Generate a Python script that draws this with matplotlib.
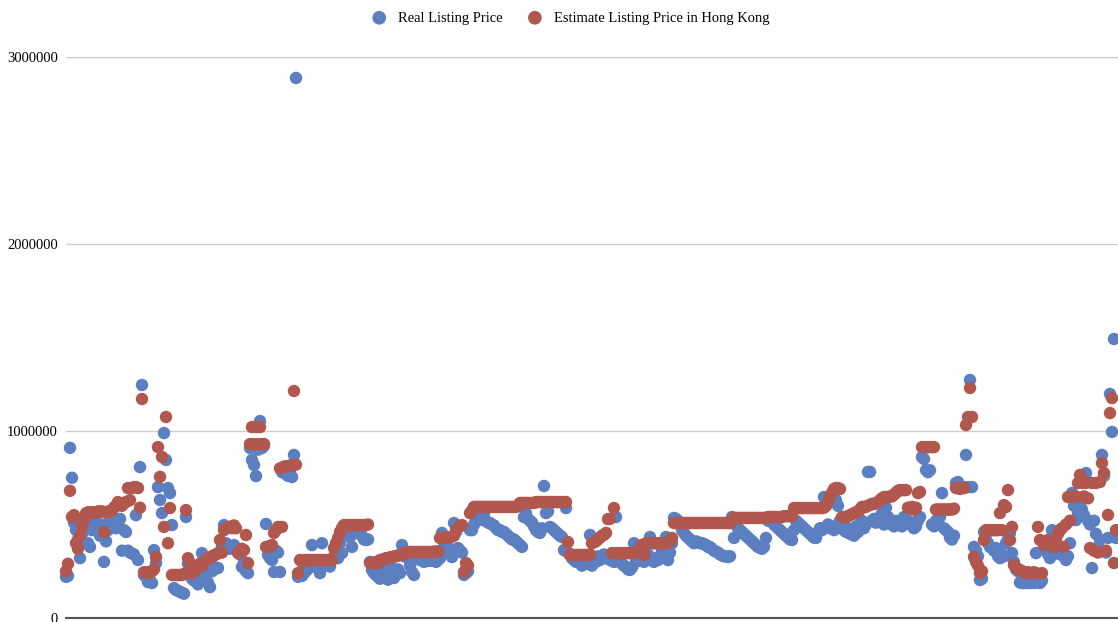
import matplotlib.pyplot as plt
import numpy as np

# values in thousands, one point every listing (index order)
real_price = [
    220, 225, 910, 750, 510, 470, 420, 320, 450, 480,
    510, 400, 380, 470, 500, 520, 470, 440, 500, 300,
    410, 470, 520, 500, 530, 480, 510, 530, 360, 470,
    460, 360, 350, 345, 340, 550, 310, 807, 1246, 230,
    220, 192, 200, 187, 363, 294, 700, 631, 561, 989,
    845, 695, 668, 497, 160, 150, 145, 140, 134, 130,
    540, 290, 230, 210, 200, 240, 180, 210, 347, 230,
    200, 190, 165, 250, 260, 270, 267, 350, 380, 497,
    400, 380, 370, 480, 390, 370, 360, 340, 273, 300,
    250, 240, 909, 845, 818, 759, 900, 1053, 909, 920,
    503, 337, 320, 310, 246, 360, 350, 246, 780, 790,
    770, 760, 790, 754, 872, 2888, 220, 230, 225, 240,
    250, 280, 270, 390, 285, 280, 300, 240, 400, 290,
    300, 285, 275, 310, 330, 370, 320, 400, 347, 497,
    480, 470, 433, 380, 460, 490, 470, 450, 440, 420,
    417, 420, 300, 257, 240, 230, 220, 210, 260, 230,
    215, 205, 280, 230, 214, 250, 260, 240, 390, 330,
    340, 320, 280, 246, 230, 320, 330, 310, 320, 300,
    310, 320, 305, 310, 330, 300, 310, 320, 455, 380,
    400, 350, 370, 326, 508, 460, 374, 360, 350, 230,
    240, 250, 470, 470, 500, 520, 560, 540, 524, 560,
    520, 510, 508, 500, 495, 480, 470, 470, 460, 460,
    450, 440, 430, 420, 420, 410, 400, 390, 380, 540,
    560, 530, 520, 510, 490, 470, 460, 455, 480, 706,
    561, 570, 487, 480, 470, 460, 450, 440, 433, 363,
    588, 350, 340, 320, 310, 300, 320, 300, 280, 290,
    300, 290, 444, 280, 320, 300, 330, 310, 320, 340,
    320, 330, 310, 320, 300, 540, 310, 300, 290, 280,
    273, 260, 257, 270, 400, 300, 310, 320, 330, 300,
    320, 340, 433, 310, 300, 320, 310, 330, 360, 380,
    433, 310, 350, 400, 535, 530, 520, 510, 470, 455,
    440, 430, 420, 410, 400, 410, 406, 400, 400, 395,
    390, 380, 380, 370, 360, 355, 350, 340, 335, 330,
    330, 326, 330, 540, 428, 500, 480, 470, 460, 450,
    440, 430, 420, 410, 400, 390, 380, 375, 370, 380,
    428, 520, 524, 515, 500, 490, 480, 470, 460, 450,
    440, 430, 420, 417, 470, 520, 510, 500, 490, 480,
    470, 460, 450, 440, 430, 428, 460, 480, 470, 647,
    600, 500, 480, 490, 470, 630, 600, 520, 480, 470,
    460, 480, 450, 470, 440, 490, 460, 500, 520, 480,
    500, 781, 781, 520, 530, 510, 520, 540, 560, 500,
    590, 540, 520, 500, 490, 520, 510, 500, 490, 540,
    530, 520, 500, 510, 480, 490, 520, 540, 861, 850,
    791, 780, 790, 500, 490, 520, 510, 540, 668, 480,
    470, 460, 430, 420, 440, 722, 727, 700, 700, 700,
    872, 700, 1273, 700, 380, 360, 330, 203, 210, 460,
    420, 400, 380, 374, 360, 374, 330, 320, 340, 330,
    400, 420, 455, 347, 300, 260, 250, 190, 187, 187,
    190, 187, 187, 190, 187, 347, 190, 187, 200, 380,
    360, 340, 320, 470, 400, 380, 350, 340, 360, 330,
    310, 330, 400, 668, 600, 524, 560, 600, 580, 550,
    775, 520, 500, 267, 520, 450, 380, 420, 872, 760,
    350, 428, 1198, 995, 1492, 428,
]

estimate_price = [
    250, 290, 680, 540, 550, 400, 370, 440, 490, 530,
    560, 565, 565, 565, 565, 565, 570, 570, 570, 460,
    565, 570, 570, 575, 590, 600, 620, 610, 600, 615,
    620, 695, 630, 695, 700, 700, 695, 590, 1171, 245,
    245, 240, 245, 250, 260, 326, 914, 755, 861, 487,
    1075, 400, 588, 230, 230, 230, 230, 230, 230, 235,
    577, 320, 294, 240, 250, 260, 270, 290, 280, 300,
    310, 320, 320, 330, 335, 340, 347, 417, 350, 470,
    480, 485, 487, 490, 495, 480, 347, 360, 370, 363,
    444, 294, 930, 1021, 930, 1021, 930, 1021, 930, 930,
    380, 380, 385, 390, 455, 470, 487, 800, 487, 810,
    810, 812, 815, 818, 1214, 820, 240, 310, 300, 310,
    310, 310, 310, 310, 310, 310, 310, 310, 310, 310,
    310, 310, 310, 310, 374, 400, 428, 460, 481, 495,
    497, 497, 497, 497, 497, 497, 497, 497, 497, 497,
    497, 500, 294, 294, 294, 300, 294, 310, 310, 315,
    320, 320, 325, 325, 330, 330, 335, 337, 337, 345,
    350, 350, 353, 353, 353, 353, 353, 353, 353, 353,
    353, 353, 353, 353, 355, 355, 355, 428, 428, 430,
    428, 430, 432, 435, 440, 470, 485, 490, 497, 246,
    294, 280, 561, 575, 594, 594, 594, 594, 594, 594,
    594, 594, 594, 594, 594, 594, 594, 594, 594, 594,
    594, 594, 594, 594, 594, 594, 600, 615, 615, 615,
    615, 615, 615, 615, 615, 620, 620, 620, 620, 620,
    620, 620, 620, 620, 620, 620, 620, 620, 620, 620,
    620, 406, 337, 337, 337, 337, 337, 337, 337, 337,
    337, 337, 340, 400, 405, 410, 420, 430, 440, 445,
    455, 529, 530, 347, 588, 347, 347, 347, 347, 347,
    347, 347, 347, 347, 350, 355, 360, 370, 390, 337,
    400, 400, 400, 400, 400, 400, 400, 400, 400, 400,
    400, 405, 410, 428, 508, 508, 508, 508, 508, 508,
    508, 508, 508, 508, 508, 508, 508, 508, 508, 508,
    508, 508, 508, 508, 508, 508, 508, 508, 508, 508,
    508, 508, 508, 520, 535, 535, 535, 535, 535, 535,
    535, 535, 535, 535, 535, 535, 535, 535, 535, 535,
    535, 540, 540, 540, 540, 540, 540, 540, 540, 545,
    545, 545, 545, 545, 588, 588, 588, 588, 588, 588,
    588, 588, 588, 588, 588, 588, 588, 588, 588, 590,
    600, 620, 650, 670, 690, 695, 695, 690, 540, 540,
    540, 545, 550, 555, 560, 565, 570, 580, 594, 594,
    594, 600, 605, 610, 610, 615, 620, 630, 640, 647,
    647, 647, 650, 650, 660, 670, 680, 684, 684, 684,
    684, 590, 585, 594, 580, 590, 668, 674, 914, 914,
    914, 914, 914, 914, 914, 580, 580, 580, 580, 580,
    580, 580, 580, 580, 585, 695, 695, 690, 695, 695,
    1032, 1075, 1230, 1075, 326, 300, 280, 240, 250, 417,
    470, 470, 470, 470, 470, 470, 470, 561, 470, 604,
    594, 684, 417, 487, 283, 270, 260, 257, 250, 245,
    240, 245, 240, 240, 245, 240, 487, 417, 240, 390,
    400, 417, 410, 400, 380, 420, 450, 470, 480, 380,
    500, 647, 520, 647, 650, 650, 722, 765, 722, 650,
    722, 640, 374, 722, 360, 722, 350, 727, 829, 775,
    360, 551, 1096, 1176, 294, 470,
]

real_price = np.array(real_price) * 1000
estimate_price = np.array(estimate_price) * 1000
idx = np.arange(len(real_price))

blue = '#5b7fc0'
red = '#b1574e'

fig = plt.figure(figsize=(11.18, 6.22), dpi=100)
ax = fig.add_axes([66 / 1118, 4 / 622, 1 - 66 / 1118, 561 / 622])

ax.scatter(idx, real_price, s=80, color=blue, edgecolors='none',
           label='Real Listing Price', clip_on=False, zorder=3)
ax.scatter(idx, estimate_price, s=80, color=red, edgecolors='none',
           label='Estimate Listing Price in Hong Kong', clip_on=False, zorder=4)

ax.set_xlim(0, 526)
ax.set_ylim(0, 3000000)
ax.set_yticks([0, 1000000, 2000000, 3000000])
ax.set_yticklabels(['0', '1000000', '2000000', '3000000'],
                   fontfamily='Liberation Serif', fontsize=10.5)
ax.set_xticks([])
ax.tick_params(axis='y', length=0, pad=6)
ax.grid(axis='y', color='#cccccc', linewidth=1)
ax.set_axisbelow(True)
for side in ['top', 'right', 'left']:
    ax.spines[side].set_visible(False)
ax.spines['bottom'].set_color('#555555')
ax.spines['bottom'].set_linewidth(1.5)

fig.legend(loc='center', bbox_to_anchor=(567 / 1118, 1 - 18 / 622), ncol=2,
           frameon=False, prop={'family': 'Liberation Serif', 'size': 10.5},
           handletextpad=0.3, columnspacing=1.2, markerscale=1.1)

plt.savefig('out.png', dpi=100)
